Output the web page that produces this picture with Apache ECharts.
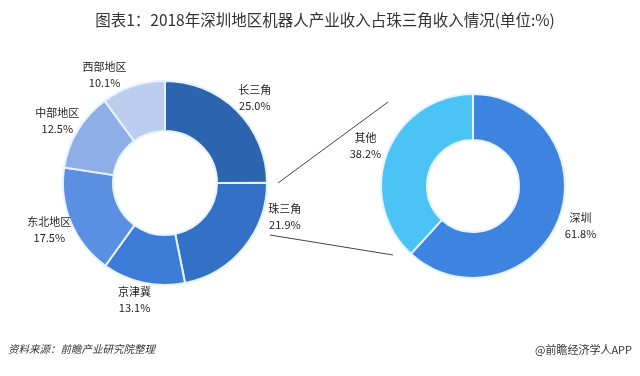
<!DOCTYPE html>
<html>
<head>
<meta charset="utf-8">
<script src="https://cdn.jsdelivr.net/npm/echarts@6/dist/echarts.min.js"></script>
<style>
  html, body { margin: 0; padding: 0; background: #fff; }
  #chart { width: 640px; height: 376px; }
</style>
</head>
<body>
<div id="chart"></div>
<script>
// 左侧：各地区占比
const regionNames = ['长三角', '珠三角', '京津冀', '东北地区', '中部地区', '西部地区']
const regionValues = [25.0, 21.9, 13.1, 17.5, 12.5, 10.1]
const regionColors = ['#2C64B0', '#3371C6', '#3C7BD8', '#5A8FE2', '#8EAEE8', '#BCCDF0']

// 右侧：深圳占珠三角
const pearlNames = ['深圳', '其他']
const pearlValues = [61.8, 38.2]
const pearlColors = ['#3D84E0', '#4CC3F5']

const chart = echarts.init(document.getElementById('chart'))

const labelStyle = {
  show: true,
  position: 'outside',
  overflow: 'none',
  formatter: p => p.name + '\n' + p.value.toFixed(1) + '%',
  color: '#222',
  fontSize: 11,
  lineHeight: 16,
  fontFamily: 'Noto Sans CJK SC'
}

// 标签居中，个别标签微调位置
const leftLayout = params => {
  if (params.dataIndex === 1) return { align: 'center', dx: 22, dy: -42 }
  if (params.dataIndex === 5) return { align: 'center', dx: -18, dy: 6 }
  return { align: 'center' }
}

chart.setOption({
  title: {
    text: '图表1：2018年深圳地区机器人产业收入占珠三角收入情况(单位:%)',
    left: 320,
    textAlign: 'center',
    top: 7,
    textStyle: {
      fontSize: 15.5,
      fontWeight: 'normal',
      color: '#333',
      fontFamily: 'Noto Sans CJK SC'
    }
  },
  graphic: [
    { type: 'line', shape: { x1: 278, y1: 183, x2: 388, y2: 102 }, style: { stroke: '#444', lineWidth: 1 } },
    { type: 'line', shape: { x1: 270, y1: 235, x2: 393, y2: 255 }, style: { stroke: '#444', lineWidth: 1 } },
    {
      type: 'text', left: 8, top: 344,
      style: { text: '资料来源：前瞻产业研究院整理', fontSize: 10.5, fontStyle: 'italic', fill: '#333', fontFamily: 'Noto Sans CJK SC' }
    },
    {
      type: 'text', right: 8, top: 344,
      style: { text: '@前瞻经济学人APP', fontSize: 11, fill: '#333', fontFamily: 'Noto Sans CJK SC' }
    }
  ],
  series: [
    {
      type: 'pie',
      center: [165, 183],
      radius: [52, 102],
      startAngle: 90,
      clockwise: true,
      animation: false,
      itemStyle: { borderColor: '#e6f3ff', borderWidth: 2 },
      label: labelStyle,
      labelLine: { show: false, length: 18, length2: 0 },
      labelLayout: leftLayout,
      emphasis: { disabled: true },
      data: regionNames.map((n, i) => ({
        name: n,
        value: regionValues[i],
        itemStyle: { color: regionColors[i] }
      }))
    },
    {
      type: 'pie',
      center: [473, 186],
      radius: [46, 92],
      startAngle: 90,
      clockwise: true,
      animation: false,
      itemStyle: { borderColor: '#e6f3ff', borderWidth: 2 },
      label: labelStyle,
      labelLine: { show: false, length: 18, length2: 0 },
      labelLayout: { align: 'center' },
      emphasis: { disabled: true },
      data: pearlNames.map((n, i) => ({
        name: n,
        value: pearlValues[i],
        itemStyle: { color: pearlColors[i] }
      }))
    }
  ]
})
</script>
</body>
</html>
